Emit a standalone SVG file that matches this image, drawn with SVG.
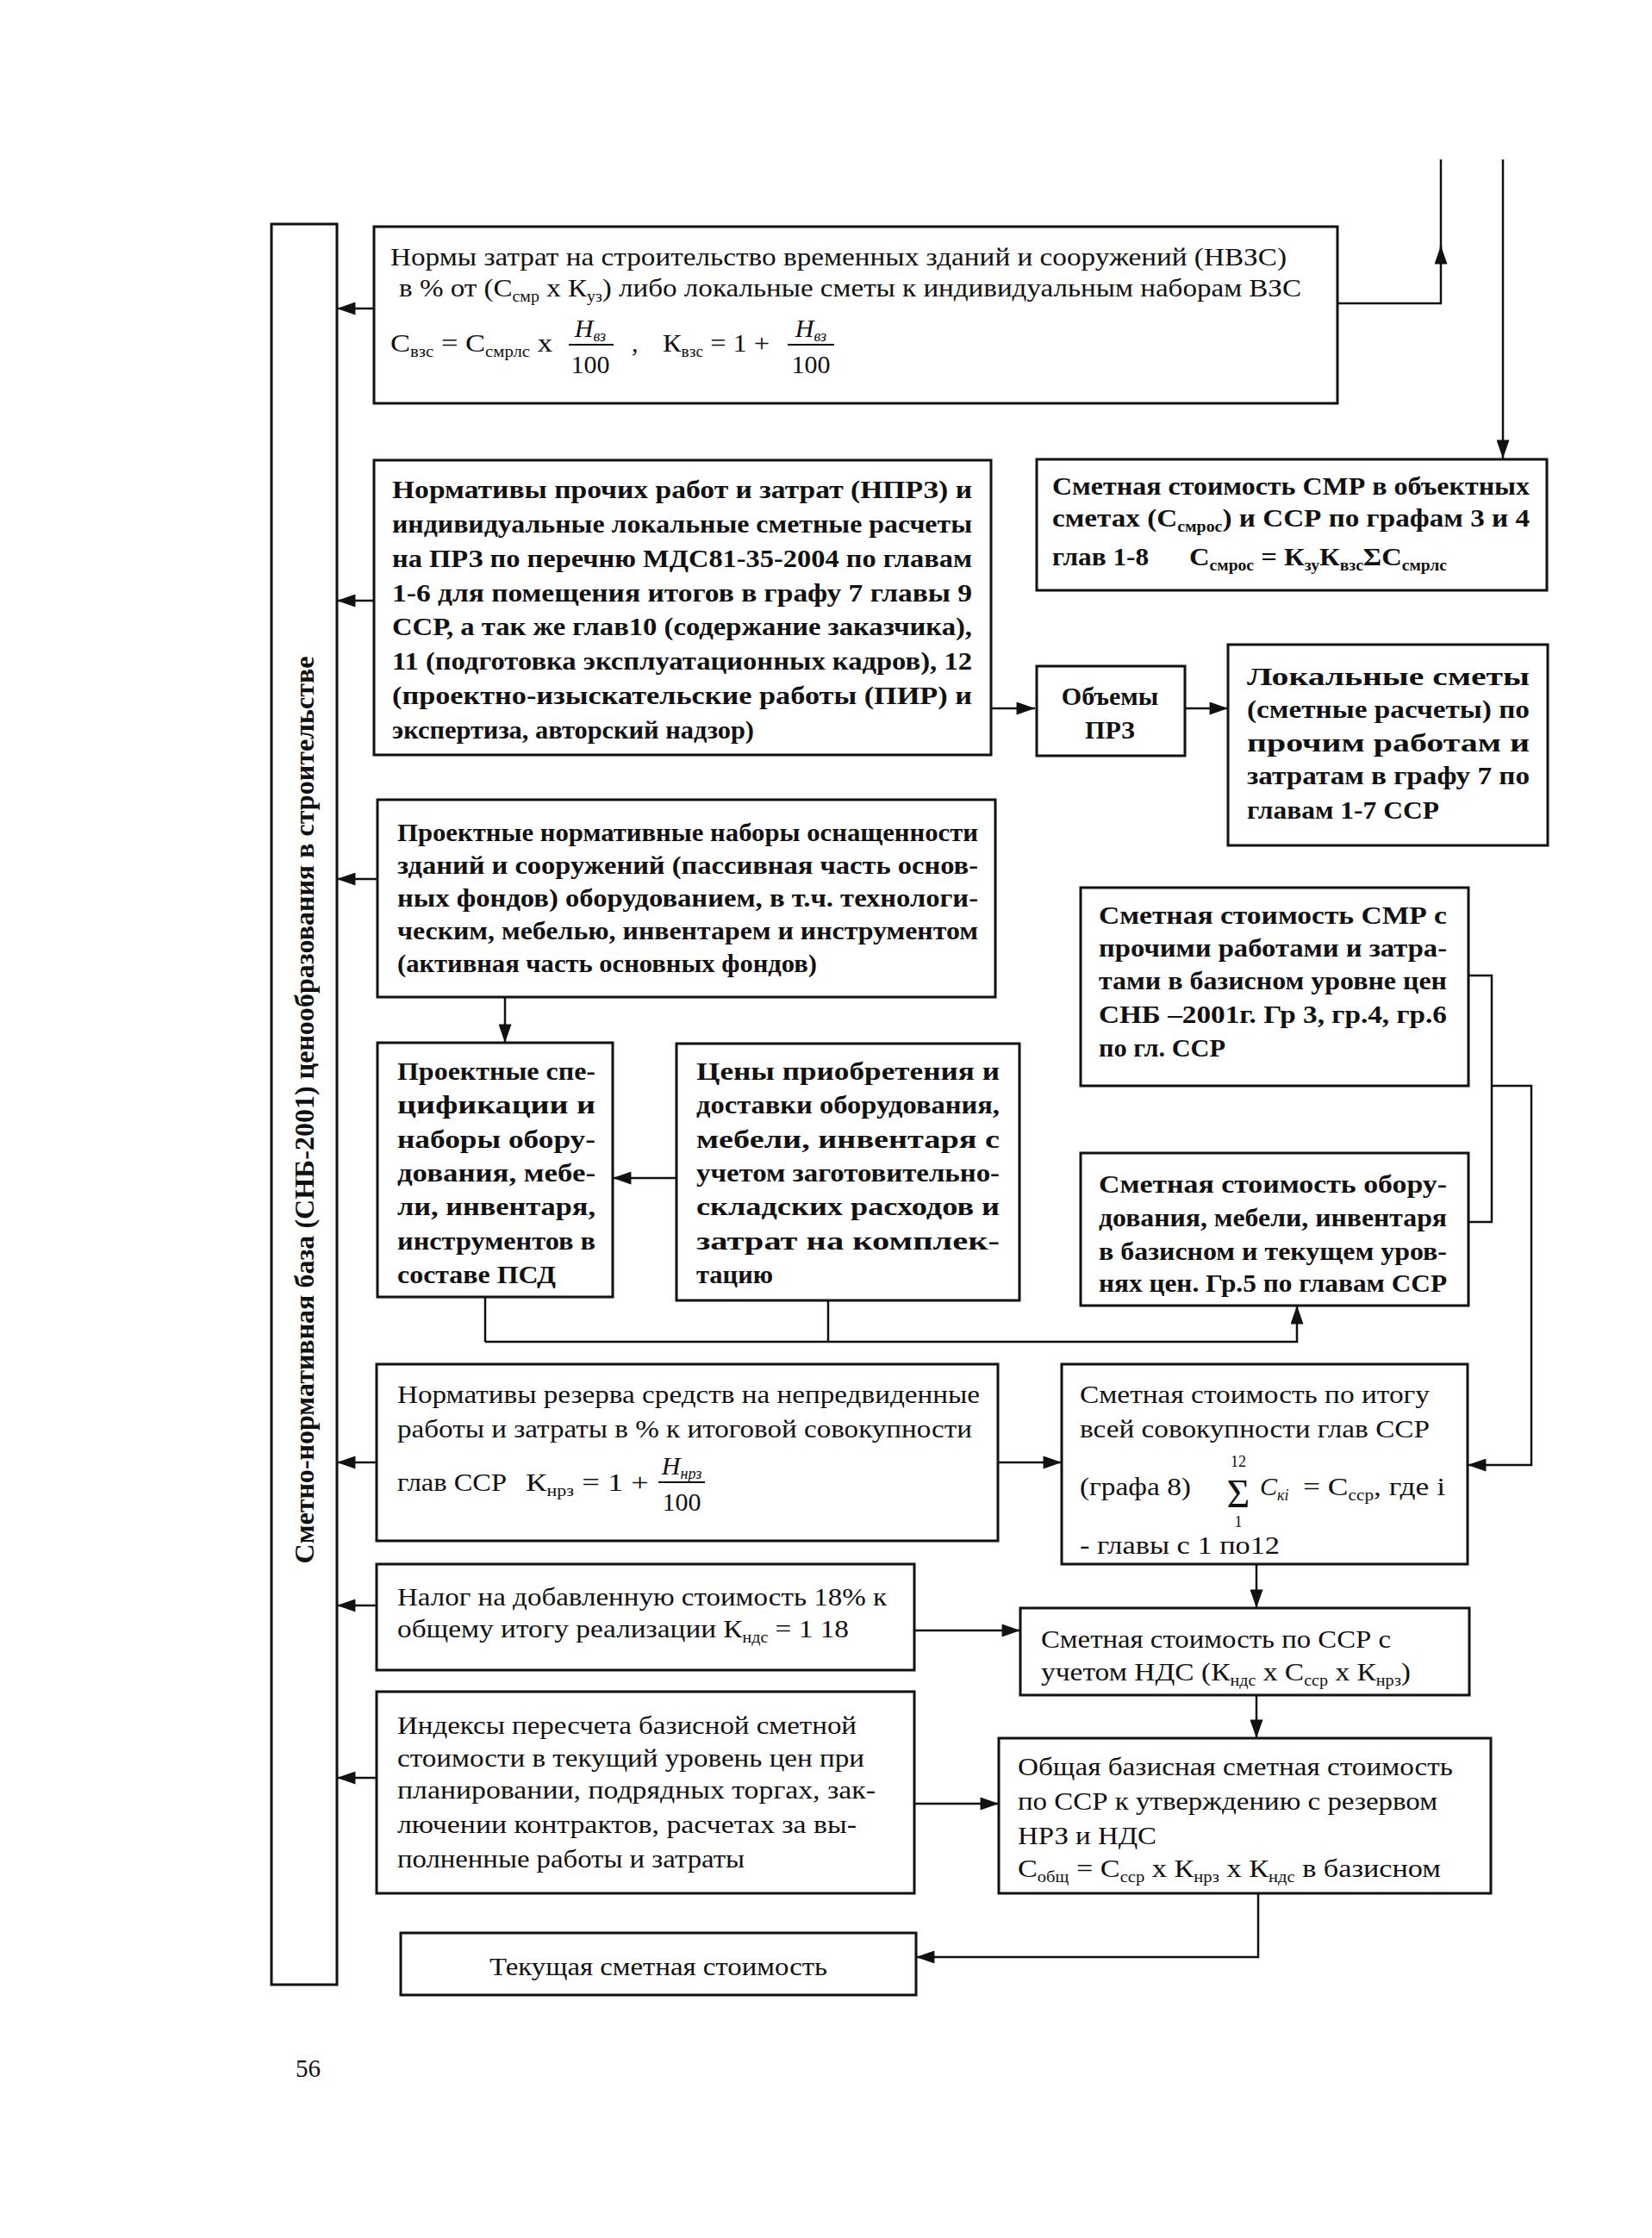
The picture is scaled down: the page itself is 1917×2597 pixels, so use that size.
<svg xmlns="http://www.w3.org/2000/svg" width="1917" height="2597" viewBox="0 0 1917 2597">
<defs>
<marker id="ah" viewBox="0 0 20 14" refX="20" refY="7" markerWidth="22" markerHeight="15" markerUnits="userSpaceOnUse" orient="auto"><path d="M0,0 L20,7 L0,14 z" fill="#111"/></marker>
</defs>
<style>
.box{fill:#fff;stroke:#111;stroke-width:3}
.t{font-family:"Liberation Serif","Times New Roman",serif;font-size:30px;fill:#111}
.b .t{font-weight:bold}
.m{text-anchor:middle}
.s{font-size:18px}
.i{font-style:italic}
.c{fill:none;stroke:#111;stroke-width:2.5}
.a{marker-end:url(#ah)}
.bar{stroke:#111;stroke-width:2}
</style>
<rect width="1917" height="2597" fill="#fff"/>

<g id="connectors">
<path class="c a" d="M434,358 H391"/>
<path class="c a" d="M434,697 H391"/>
<path class="c a" d="M438,1020 H391"/>
<path class="c a" d="M437,1697 H391"/>
<path class="c a" d="M437,1863 H391"/>
<path class="c a" d="M437,2063 H391"/>
<path class="c a" d="M1552,352 H1672 V285"/>
<path class="c" d="M1672,290 V185"/>
<path class="c a" d="M1744,185 V532"/>
<path class="c a" d="M1150,822 H1201"/>
<path class="c a" d="M1375,822 H1425"/>
<path class="c a" d="M586,1157 V1210"/>
<path class="c a" d="M785,1367 H711"/>
<path class="c" d="M563,1505 V1557 M961,1510 V1557"/>
<path class="c a" d="M563,1557 H1505 V1515"/>
<path class="c" d="M1704,1132 H1731 V1418 H1704"/>
<path class="c a" d="M1731,1260 H1777 V1700 H1703"/>
<path class="c a" d="M1158,1697 H1232"/>
<path class="c a" d="M1458,1815 V1866"/>
<path class="c a" d="M1061,1892 H1184"/>
<path class="c a" d="M1458,1967 V2017"/>
<path class="c a" d="M1061,2093 H1159"/>
<path class="c a" d="M1460,2197 V2271 H1063"/>
</g>

<g id="base">
<rect class="box" x="315" y="260" width="76" height="2043"/>
<text class="t m" transform="translate(364,1288) rotate(-90)" style="font-weight:bold;font-size:32px" textLength="1053" lengthAdjust="spacingAndGlyphs">Сметно-нормативная база (СНБ-2001) ценообразования в строительстве</text>
</g>

<g id="b1">
<rect class="box" x="434" y="263" width="1118" height="205"/>
<text class="t" x="453" y="308" textLength="1040" lengthAdjust="spacingAndGlyphs">Нормы затрат на строительство временных зданий и сооружений (НВЗС)</text>
<text class="t" x="463" y="344" textLength="1047" lengthAdjust="spacingAndGlyphs">в % от (С<tspan class="s" dy="6">смр</tspan><tspan dy="-6"> х К</tspan><tspan class="s" dy="6">уз</tspan><tspan dy="-6">) либо локальные сметы к индивидуальным наборам ВЗС</tspan></text>
<text class="t" x="453" y="408" textLength="188" lengthAdjust="spacingAndGlyphs">С<tspan class="s" dy="6">взс</tspan><tspan dy="-6"> = С</tspan><tspan class="s" dy="6">смрлс</tspan><tspan dy="-6"> х</tspan></text>
<text class="t m i" x="685" y="391">Н<tspan class="s" dy="5">вз</tspan></text>
<line class="bar" x1="660" y1="400" x2="712" y2="400"/>
<text class="t m" x="685" y="433">100</text>
<text class="t" x="733" y="408">,</text>
<text class="t" x="769" y="408" textLength="124" lengthAdjust="spacingAndGlyphs">К<tspan class="s" dy="6">взс</tspan><tspan dy="-6"> = 1 +</tspan></text>
<text class="t m i" x="941" y="391">Н<tspan class="s" dy="5">вз</tspan></text>
<line class="bar" x1="914" y1="400" x2="968" y2="400"/>
<text class="t m" x="941" y="433">100</text>
</g>

<g id="b2" class="b">
<rect class="box" x="434" y="534" width="716" height="342"/>
<text class="t" x="455" y="578" textLength="673" lengthAdjust="spacingAndGlyphs">Нормативы прочих работ и затрат (НПРЗ) и</text>
<text class="t" x="455" y="618" textLength="673" lengthAdjust="spacingAndGlyphs">индивидуальные локальные сметные расчеты</text>
<text class="t" x="455" y="658" textLength="673" lengthAdjust="spacingAndGlyphs">на ПРЗ по перечню МДС81-35-2004 по главам</text>
<text class="t" x="455" y="698" textLength="673" lengthAdjust="spacingAndGlyphs">1-6 для помещения итогов в графу 7 главы 9</text>
<text class="t" x="455" y="737" textLength="673" lengthAdjust="spacingAndGlyphs">ССР, а так же глав10 (содержание заказчика),</text>
<text class="t" x="455" y="777" textLength="673" lengthAdjust="spacingAndGlyphs">11 (подготовка эксплуатационных кадров), 12</text>
<text class="t" x="455" y="817" textLength="673" lengthAdjust="spacingAndGlyphs">(проектно-изыскательские работы (ПИР) и</text>
<text class="t" x="455" y="857" textLength="420" lengthAdjust="spacingAndGlyphs">экспертиза, авторский надзор)</text>
</g>

<g id="b3" class="b">
<rect class="box" x="1203" y="533" width="592" height="152"/>
<text class="t" x="1221" y="574" textLength="554" lengthAdjust="spacingAndGlyphs">Сметная стоимость СМР в объектных</text>
<text class="t" x="1221" y="611" textLength="554" lengthAdjust="spacingAndGlyphs">сметах (С<tspan class="s" dy="6">смрос</tspan><tspan dy="-6">) и ССР по графам 3 и 4</tspan></text>
<text class="t" x="1221" y="656" textLength="112" lengthAdjust="spacingAndGlyphs">глав 1-8</text>
<text class="t" x="1380" y="656" textLength="299" lengthAdjust="spacingAndGlyphs">С<tspan class="s" dy="6">смрос</tspan><tspan dy="-6"> = К</tspan><tspan class="s" dy="6">зу</tspan><tspan dy="-6">К</tspan><tspan class="s" dy="6">взс</tspan><tspan dy="-6">ΣС</tspan><tspan class="s" dy="6">смрлс</tspan></text>
</g>

<g id="b-obj" class="b">
<rect class="box" x="1203" y="773" width="172" height="104"/>
<text class="t m" x="1288" y="818">Объемы</text>
<text class="t m" x="1288" y="857">ПРЗ</text>
</g>

<g id="b-lok" class="b">
<rect class="box" x="1425" y="748" width="371" height="233"/>
<text class="t" x="1447" y="795" textLength="328" lengthAdjust="spacingAndGlyphs">Локальные            сметы</text>
<text class="t" x="1447" y="833" textLength="328" lengthAdjust="spacingAndGlyphs">(сметные расчеты) по</text>
<text class="t" x="1447" y="872" textLength="328" lengthAdjust="spacingAndGlyphs">прочим    работам    и</text>
<text class="t" x="1447" y="910" textLength="328" lengthAdjust="spacingAndGlyphs">затратам в графу 7 по</text>
<text class="t" x="1447" y="950" textLength="223" lengthAdjust="spacingAndGlyphs">главам 1-7 ССР</text>
</g>

<g id="b4" class="b">
<rect class="box" x="438" y="928" width="717" height="229"/>
<text class="t" x="461" y="976" textLength="674" lengthAdjust="spacingAndGlyphs">Проектные нормативные наборы оснащенности</text>
<text class="t" x="461" y="1014" textLength="674" lengthAdjust="spacingAndGlyphs">зданий и сооружений (пассивная часть основ-</text>
<text class="t" x="461" y="1052" textLength="674" lengthAdjust="spacingAndGlyphs">ных фондов) оборудованием, в т.ч. технологи-</text>
<text class="t" x="461" y="1090" textLength="674" lengthAdjust="spacingAndGlyphs">ческим, мебелью, инвентарем и инструментом</text>
<text class="t" x="461" y="1128" textLength="487" lengthAdjust="spacingAndGlyphs">(активная часть основных фондов)</text>
</g>

<g id="b5" class="b">
<rect class="box" x="438" y="1210" width="273" height="295"/>
<text class="t" x="461" y="1253" textLength="230" lengthAdjust="spacingAndGlyphs">Проектные спе-</text>
<text class="t" x="461" y="1292" textLength="230" lengthAdjust="spacingAndGlyphs">цификации      и</text>
<text class="t" x="461" y="1332" textLength="230" lengthAdjust="spacingAndGlyphs">наборы обору-</text>
<text class="t" x="461" y="1371" textLength="230" lengthAdjust="spacingAndGlyphs">дования, мебе-</text>
<text class="t" x="461" y="1410" textLength="230" lengthAdjust="spacingAndGlyphs">ли,  инвентаря,</text>
<text class="t" x="461" y="1450" textLength="230" lengthAdjust="spacingAndGlyphs">инструментов в</text>
<text class="t" x="461" y="1489" textLength="184" lengthAdjust="spacingAndGlyphs">составе ПСД</text>
</g>

<g id="b6" class="b">
<rect class="box" x="785" y="1211" width="398" height="298"/>
<text class="t" x="808" y="1253" textLength="352" lengthAdjust="spacingAndGlyphs">Цены  приобретения  и</text>
<text class="t" x="808" y="1292" textLength="352" lengthAdjust="spacingAndGlyphs">доставки оборудования,</text>
<text class="t" x="808" y="1332" textLength="352" lengthAdjust="spacingAndGlyphs">мебели,   инвентаря   с</text>
<text class="t" x="808" y="1371" textLength="352" lengthAdjust="spacingAndGlyphs">учетом заготовительно-</text>
<text class="t" x="808" y="1410" textLength="352" lengthAdjust="spacingAndGlyphs">складских расходов и</text>
<text class="t" x="808" y="1450" textLength="352" lengthAdjust="spacingAndGlyphs">затрат     на     комплек-</text>
<text class="t" x="808" y="1489" textLength="89" lengthAdjust="spacingAndGlyphs">тацию</text>
</g>

<g id="b7" class="b">
<rect class="box" x="1254" y="1030" width="450" height="230"/>
<text class="t" x="1275" y="1072" textLength="404" lengthAdjust="spacingAndGlyphs">Сметная  стоимость  СМР  с</text>
<text class="t" x="1275" y="1110" textLength="404" lengthAdjust="spacingAndGlyphs">прочими работами и затра-</text>
<text class="t" x="1275" y="1148" textLength="404" lengthAdjust="spacingAndGlyphs">тами в базисном уровне цен</text>
<text class="t" x="1275" y="1187" textLength="404" lengthAdjust="spacingAndGlyphs">СНБ –2001г. Гр 3, гр.4, гр.6</text>
<text class="t" x="1275" y="1226" textLength="147" lengthAdjust="spacingAndGlyphs">по гл. ССР</text>
</g>

<g id="b8" class="b">
<rect class="box" x="1254" y="1338" width="450" height="177"/>
<text class="t" x="1275" y="1384" textLength="404" lengthAdjust="spacingAndGlyphs">Сметная  стоимость  обору-</text>
<text class="t" x="1275" y="1423" textLength="404" lengthAdjust="spacingAndGlyphs">дования, мебели, инвентаря</text>
<text class="t" x="1275" y="1462" textLength="404" lengthAdjust="spacingAndGlyphs">в базисном и текущем уров-</text>
<text class="t" x="1275" y="1499" textLength="404" lengthAdjust="spacingAndGlyphs">нях цен. Гр.5 по главам ССР</text>
</g>

<g id="b9">
<rect class="box" x="437" y="1583" width="721" height="205"/>
<text class="t" x="461" y="1628" textLength="676" lengthAdjust="spacingAndGlyphs">Нормативы резерва средств на непредвиденные</text>
<text class="t" x="461" y="1668" textLength="667" lengthAdjust="spacingAndGlyphs">работы и затраты в % к итоговой совокупности</text>
<text class="t" x="461" y="1730" textLength="127" lengthAdjust="spacingAndGlyphs">глав ССР</text>
<text class="t" x="610" y="1730" textLength="143" lengthAdjust="spacingAndGlyphs">К<tspan class="s" dy="6">нрз</tspan><tspan dy="-6"> = 1 +</tspan></text>
<text class="t m i" x="791" y="1711">Н<tspan class="s" dy="5">нрз</tspan></text>
<line class="bar" x1="764" y1="1720" x2="818" y2="1720"/>
<text class="t m" x="791" y="1753">100</text>
</g>

<g id="b10">
<rect class="box" x="1232" y="1583" width="471" height="232"/>
<text class="t" x="1253" y="1628" textLength="406" lengthAdjust="spacingAndGlyphs">Сметная стоимость по итогу</text>
<text class="t" x="1253" y="1668" textLength="406" lengthAdjust="spacingAndGlyphs">всей совокупности глав ССР</text>
<text class="t" x="1253" y="1735" textLength="129" lengthAdjust="spacingAndGlyphs">(графа 8)</text>
<text class="t m s" x="1437" y="1702">12</text>
<text class="t m" x="1437" y="1749" style="font-size:46px">Σ</text>
<text class="t m s" x="1437" y="1772">1</text>
<text class="t i" x="1462" y="1735">С<tspan class="s" dy="6">кi</tspan></text>
<text class="t" x="1512" y="1735" textLength="165" lengthAdjust="spacingAndGlyphs">= С<tspan class="s" dy="6">сср</tspan><tspan dy="-6">, где  i</tspan></text>
<text class="t" x="1253" y="1803" textLength="232" lengthAdjust="spacingAndGlyphs">- главы с 1 по12</text>
</g>

<g id="b11">
<rect class="box" x="437" y="1815" width="624" height="123"/>
<text class="t" x="461" y="1863" textLength="568" lengthAdjust="spacingAndGlyphs">Налог на добавленную стоимость 18% к</text>
<text class="t" x="461" y="1900" textLength="524" lengthAdjust="spacingAndGlyphs">общему итогу реализации К<tspan class="s" dy="6">ндс</tspan><tspan dy="-6"> = 1 18</tspan></text>
</g>

<g id="b12">
<rect class="box" x="1184" y="1866" width="521" height="101"/>
<text class="t" x="1208" y="1912" textLength="406" lengthAdjust="spacingAndGlyphs">Сметная стоимость по ССР с</text>
<text class="t" x="1208" y="1950" textLength="429" lengthAdjust="spacingAndGlyphs">учетом НДС (К<tspan class="s" dy="6">ндс</tspan><tspan dy="-6"> х С</tspan><tspan class="s" dy="6">сср</tspan><tspan dy="-6"> х К</tspan><tspan class="s" dy="6">нрз</tspan><tspan dy="-6">)</tspan></text>
</g>

<g id="b13">
<rect class="box" x="437" y="1963" width="624" height="234"/>
<text class="t" x="461" y="2012" textLength="533" lengthAdjust="spacingAndGlyphs">Индексы пересчета базисной сметной</text>
<text class="t" x="461" y="2050" textLength="542" lengthAdjust="spacingAndGlyphs">стоимости в текущий уровень цен при</text>
<text class="t" x="461" y="2087" textLength="555" lengthAdjust="spacingAndGlyphs">планировании, подрядных торгах, зак-</text>
<text class="t" x="461" y="2127" textLength="533" lengthAdjust="spacingAndGlyphs">лючении контрактов, расчетах за вы-</text>
<text class="t" x="461" y="2167" textLength="403" lengthAdjust="spacingAndGlyphs">полненные работы и затраты</text>
</g>

<g id="b14">
<rect class="box" x="1159" y="2017" width="571" height="180"/>
<text class="t" x="1181" y="2060" textLength="505" lengthAdjust="spacingAndGlyphs">Общая базисная сметная стоимость</text>
<text class="t" x="1181" y="2100" textLength="487" lengthAdjust="spacingAndGlyphs">по ССР к утверждению с резервом</text>
<text class="t" x="1181" y="2140" textLength="161" lengthAdjust="spacingAndGlyphs">НРЗ и НДС</text>
<text class="t" x="1181" y="2178" textLength="491" lengthAdjust="spacingAndGlyphs">С<tspan class="s" dy="6">общ</tspan><tspan dy="-6"> = С</tspan><tspan class="s" dy="6">сср</tspan><tspan dy="-6"> х К</tspan><tspan class="s" dy="6">нрз</tspan><tspan dy="-6"> х К</tspan><tspan class="s" dy="6">ндс</tspan><tspan dy="-6">  в базисном</tspan></text>
</g>

<g id="b15">
<rect class="box" x="465" y="2243" width="598" height="72"/>
<text class="t m" x="764" y="2292" textLength="392" lengthAdjust="spacingAndGlyphs">Текущая сметная стоимость</text>
</g>

<text class="t" x="343" y="2410" textLength="29" lengthAdjust="spacingAndGlyphs">56</text>
</svg>
